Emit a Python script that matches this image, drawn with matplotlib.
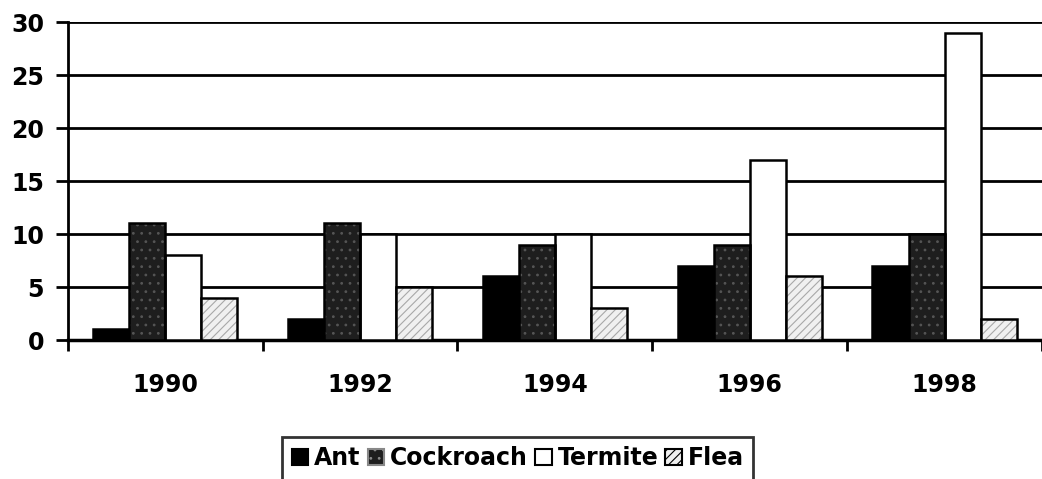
import matplotlib
matplotlib.use("Agg")
import matplotlib.pyplot as plt
import matplotlib.patches as mpatches
import numpy as np

years = ["1990", "1992", "1994", "1996", "1998"]
series_names = ["Ant", "Cockroach", "Termite", "Flea"]
ant = [1, 2, 6, 7, 7]
cockroach = [11, 11, 9, 9, 10]
termite = [8, 10, 10, 17, 29]
flea = [4, 5, 3, 6, 2]
yticks = [0, 5, 10, 15, 20, 25, 30]

plt.rcParams['font.family'] = ['DejaVu Sans']
plt.rcParams['font.weight'] = 'bold'
plt.rcParams['hatch.linewidth'] = 0.8

fig = plt.figure(figsize=(10.42, 4.79), dpi=100)
ax = fig.add_axes([0.065, 0.29, 0.935, 0.664])

x = np.arange(len(years))
w = 0.185
data = [ant, cockroach, termite, flea]
for i, vals in enumerate(data):
    pos = x + (i - 1.5) * w
    if i == 3:
        ax.bar(pos, vals, w, facecolor="#f0f0f0", edgecolor="#a8a8a8",
               hatch="////", linewidth=0, zorder=3)
        ax.bar(pos, vals, w, fill=False, edgecolor="black", linewidth=1.8, zorder=4)
    elif i == 1:
        ax.bar(pos, vals, w, facecolor="#1e1e1e", edgecolor="#555555",
               hatch="..", linewidth=0, zorder=3)
        ax.bar(pos, vals, w, fill=False, edgecolor="black", linewidth=1.8, zorder=4)
    elif i == 0:
        ax.bar(pos, vals, w, facecolor="black", edgecolor="black", linewidth=1.8, zorder=3)
    else:
        ax.bar(pos, vals, w, facecolor="white", edgecolor="black", linewidth=1.8, zorder=3)

ax.set_xlim(-0.5, len(years) - 0.5)
ax.set_ylim(0, 30)
ax.set_yticks(yticks)
ax.set_yticklabels([str(v) for v in yticks], fontsize=17, fontweight='bold')
ax.yaxis.grid(True, color="black", linewidth=2)
ax.set_axisbelow(True)

ax.set_xticks(x)
ax.set_xticklabels(years, fontsize=17, fontweight='bold')
ax.set_xticks(np.arange(len(years) + 1) - 0.5, minor=True)
ax.tick_params(axis='x', which='major', length=0, pad=24)
ax.tick_params(axis='x', which='minor', length=8, width=2, direction='out')
ax.tick_params(axis='y', length=9, width=2, direction='out', pad=8)

for s in ["top", "right"]:
    ax.spines[s].set_visible(False)
ax.spines["left"].set_linewidth(2)
ax.spines["bottom"].set_linewidth(2.5)

handles = [
    mpatches.Patch(facecolor="black", edgecolor="black", linewidth=1.5),
    mpatches.Patch(facecolor="#1e1e1e", edgecolor="#888888", hatch="..", linewidth=1.5),
    mpatches.Patch(facecolor="white", edgecolor="black", linewidth=1.5),
    mpatches.Patch(facecolor="#f0f0f0", edgecolor="black", hatch="////", linewidth=1.5),
]
leg = fig.legend(handles, series_names, loc="upper center",
                 bbox_to_anchor=(0.497, 0.088), ncol=4, frameon=True,
                 fancybox=False, prop=dict(size=17, weight='bold'),
                 handlelength=0.7, handleheight=0.7, handletextpad=0.25,
                 columnspacing=0.3, borderpad=0.4, borderaxespad=0)
leg.get_frame().set_edgecolor("black")
leg.get_frame().set_linewidth(2)

fig.savefig("out.png", dpi=100)
